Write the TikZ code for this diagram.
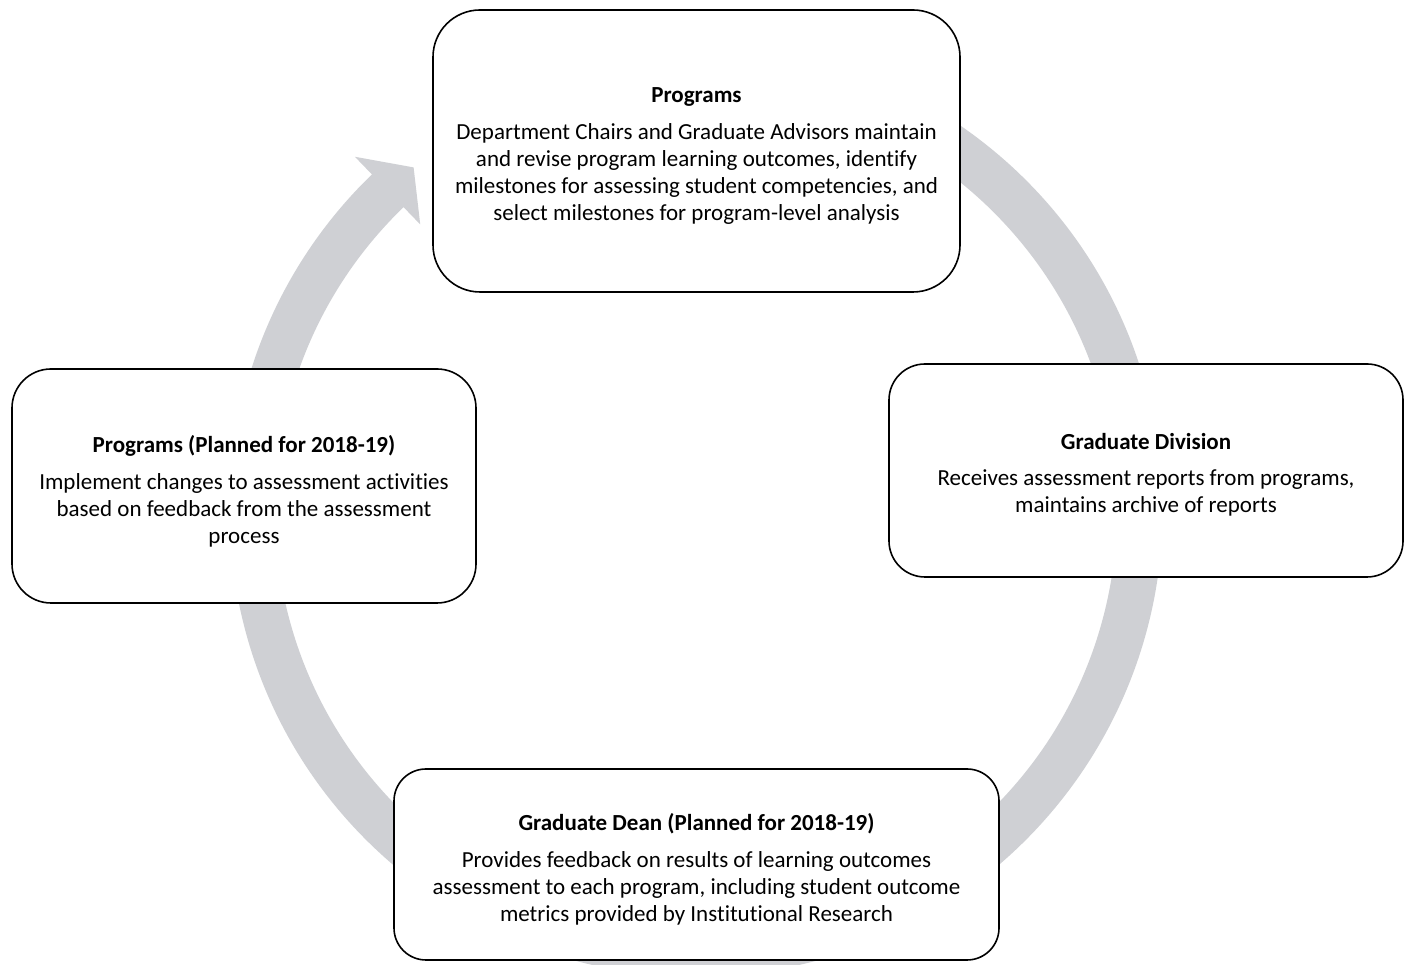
\documentclass[tikz,border=0pt]{standalone}
\usepackage{fontspec}
\setmainfont{Carlito}[Ligatures=NoCommon]
\usetikzlibrary{calc}
\definecolor{ringgray}{RGB}{207,208,212}
\tikzset{
  stage/.style={draw=black, line width=1.6pt, fill=white, rounded corners=#1, inner sep=0pt},
  stagetext/.style={inner sep=0pt, align=center, font=\fontsize{23}{27}\selectfont},
  ring/.style={fill=ringgray, draw=none}
}
\newcommand{\ttl}[1]{\textbf{#1}\\[9.5pt]}
\begin{document}
\begin{tikzpicture}[x=1pt,y=1pt]
\useasboundingbox (0,0) rectangle (1405,965);
\fill[white] (0,0) rectangle (1405,965);

% circular arrow behind the stages
\coordinate (c) at (696,455);
\fill[ring] ($(c)+(100:466.5)$) arc[start angle=100, end angle=-226, radius=466.5]
  -- ($(c)+(134:491)$) -- ($(c)+(129.5:444)$) -- ($(c)+(134:397)$)
  -- ($(c)+(134:421)$) arc[start angle=-226, end angle=100, radius=421] -- cycle;

% stage boxes
\node[stage=47pt, minimum width=527pt, minimum height=282pt] (prog) at (696.5,814) {};
\node[stage=36pt, minimum width=514pt, minimum height=213pt] (div) at (1146,494.5) {};
\node[stage=32pt, minimum width=605pt, minimum height=191pt] (dean) at (696.5,100.5) {};
\node[stage=39pt, minimum width=464pt, minimum height=234pt] (plan) at (244,479) {};

% stage texts
\node[stagetext] (progtxt) at ([yshift=-5pt]prog.center)
  {\ttl{Programs}Department Chairs and Graduate Advisors maintain\\
   and revise program learning outcomes, identify\\
   milestones for assessing student competencies, and\\
   select milestones for program-level analysis};

\node[stagetext] (divtxt) at ([yshift=-4.5pt]div.center)
  {\ttl{Graduate Division}Receives assessment reports from programs,\\
   maintains archive of reports};

\node[stagetext] (deantxt) at ([yshift=-5pt]dean.center)
  {\ttl{Graduate Dean (Planned for 2018-19)}Provides feedback on results of learning outcomes\\
   assessment to each program, including student outcome\\
   metrics provided by Institutional Research};

\node[stagetext] (plantxt) at ([yshift=-5.5pt]plan.center)
  {\ttl{Programs (Planned for 2018-19)}Implement changes to assessment activities\\
   based on feedback from the assessment\\
   process};
\end{tikzpicture}
\end{document}
